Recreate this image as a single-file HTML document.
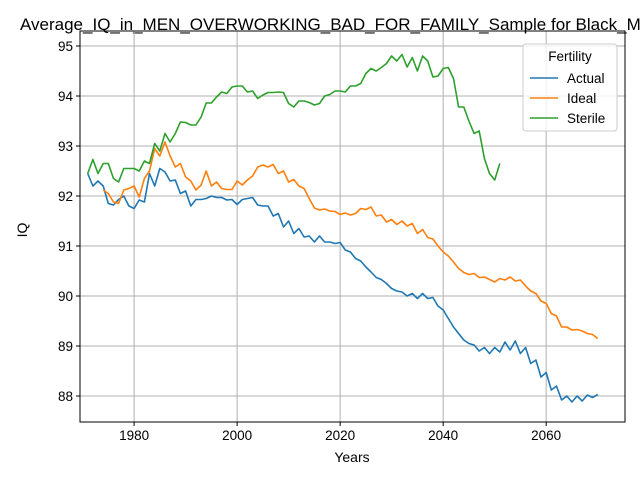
<!DOCTYPE html>
<html><head><meta charset="utf-8"><style>
body{margin:0;background:#fff;}
svg{display:block;font-family:"Liberation Sans","DejaVu Sans",sans-serif;}
</style></head><body>
<svg id="chart" width="640" height="480">
<text x="20" y="30" font-size="17" fill="#000">Average_IQ_in_MEN_OVERWORKING_BAD_FOR_FAMILY_Sample for Black_M</text>
<g id="grid"></g><g id="series"></g><g id="axes"></g>
<text x="352" y="462" font-size="14" text-anchor="middle">Years</text>
<text x="0" y="0" font-size="14" text-anchor="middle" transform="translate(27,230) rotate(-90)">IQ</text>
<g id="legend"></g>
</svg>
<script>
const xTicks=[1980,2000,2020,2040,2060];
const yTicks=[88,89,90,91,92,93,94,95];
const seriesNames=["Actual","Ideal","Sterile"];
const actualStart=1971;
const actualVals=[92.45,92.2,92.3,92.2,91.85,91.82,91.93,92.0,91.8,91.75,91.92,91.88,92.45,92.2,92.55,92.48,92.3,92.32,92.05,92.1,91.8,91.93,91.93,91.95,92.0,91.97,91.97,91.92,91.93,91.83,91.93,91.95,91.97,91.82,91.8,91.8,91.6,91.65,91.38,91.5,91.25,91.35,91.18,91.2,91.08,91.2,91.08,91.08,91.05,91.07,90.92,90.88,90.75,90.7,90.58,90.48,90.37,90.33,90.25,90.15,90.1,90.08,90.0,90.05,89.95,90.05,89.95,89.97,89.8,89.72,89.55,89.38,89.25,89.12,89.05,89.02,88.9,88.97,88.85,88.97,88.88,89.08,88.92,89.1,88.85,88.97,88.65,88.72,88.38,88.47,88.12,88.2,87.92,88.0,87.88,88.0,87.9,88.02,87.97,88.03];
const idealStart=1974;
const idealVals=[92.12,92.05,91.88,91.85,92.12,92.15,92.2,91.98,92.35,92.5,92.95,92.8,93.08,92.8,92.58,92.65,92.38,92.3,92.12,92.22,92.5,92.2,92.28,92.15,92.13,92.13,92.3,92.22,92.32,92.4,92.58,92.62,92.58,92.63,92.45,92.5,92.28,92.33,92.2,92.15,91.95,91.76,91.72,91.74,91.7,91.69,91.63,91.66,91.62,91.65,91.75,91.73,91.78,91.6,91.62,91.48,91.53,91.43,91.5,91.4,91.45,91.25,91.33,91.17,91.14,91.0,90.88,90.8,90.68,90.55,90.47,90.43,90.45,90.37,90.38,90.33,90.28,90.35,90.32,90.38,90.3,90.32,90.2,90.1,90.05,89.9,89.85,89.65,89.6,89.38,89.38,89.32,89.33,89.3,89.25,89.23,89.15];
const sterileStart=1971;
const sterileVals=[92.45,92.73,92.45,92.65,92.65,92.35,92.28,92.55,92.55,92.55,92.5,92.7,92.65,93.05,92.9,93.25,93.08,93.25,93.48,93.47,93.42,93.42,93.58,93.86,93.86,93.98,94.08,94.05,94.18,94.2,94.2,94.08,94.1,93.95,94.02,94.07,94.07,94.08,94.07,93.85,93.78,93.9,93.9,93.87,93.82,93.85,94.0,94.03,94.1,94.1,94.08,94.2,94.2,94.25,94.45,94.55,94.5,94.57,94.65,94.8,94.7,94.83,94.58,94.77,94.5,94.8,94.7,94.38,94.4,94.55,94.57,94.35,93.78,93.78,93.5,93.25,93.3,92.75,92.45,92.32,92.65];
const colors=["#1f77b4","#ff7f0e","#2ca02c"];
const L=80,R=625,T=31,B=422;
const xMin=1969.5,xMax=2075.3,yMin=87.48,yMax=95.3;
const X=v=>L+(v-xMin)/(xMax-xMin)*(R-L);
const Y=v=>B-(v-yMin)/(yMax-yMin)*(B-T);
const NS="http://www.w3.org/2000/svg";
function mk(tag,attrs,parent){const e=document.createElementNS(NS,tag);for(const k in attrs)e.setAttribute(k,attrs[k]);parent.appendChild(e);return e;}
const grid=document.getElementById('grid'),axes=document.getElementById('axes'),ser=document.getElementById('series'),leg=document.getElementById('legend');
xTicks.forEach(t=>{
  const g=mk('line',{x1:X(t),x2:X(t),y1:T,y2:B,stroke:'#b0b0b0','stroke-width':1},grid);
  
  
  mk('line',{x1:X(t),x2:X(t),y1:B,y2:B+4,stroke:'#000'},axes);
  const tx=mk('text',{x:X(t),y:B+18,'font-size':13.5,'text-anchor':'middle'},axes);tx.textContent=t;
  
  
});
yTicks.forEach(t=>{
  const g=mk('line',{x1:L,x2:R,y1:Y(t),y2:Y(t),stroke:'#b0b0b0','stroke-width':1},grid);
  
  
  mk('line',{x1:L-4,x2:L,y1:Y(t),y2:Y(t),stroke:'#000'},axes);
  const tx=mk('text',{x:L-7,y:Y(t)+5,'font-size':13.5,'text-anchor':'end'},axes);tx.textContent=t;
  
  
});
const fr=mk('rect',{x:L,y:T,width:R-L,height:B-T,fill:'none',stroke:'#000','stroke-width':1},axes);


const all=[[actualStart,actualVals],[idealStart,idealVals],[sterileStart,sterileVals]];
all.forEach((s,i)=>{
  const pts=s[1].map((v,j)=>X(s[0]+j).toFixed(1)+','+Y(v).toFixed(1)).join(' ');
  const p=mk('polyline',{points:pts,fill:'none',stroke:colors[i],'stroke-width':1.6,'stroke-linejoin':'round'},ser);
  
  
});
const lb=mk('rect',{x:523,y:44,width:94,height:87,rx:3,fill:'#fff','fill-opacity':0.8,stroke:'#ccc'},leg);


const lt=mk('text',{x:570,y:61,'font-size':13.5,'text-anchor':'middle'},leg);lt.textContent='Fertility';


seriesNames.forEach((n,i)=>{
  const yy=82+i*20;
  const ln=mk('line',{x1:530,x2:558,y1:yy-4,y2:yy-4,stroke:colors[i],'stroke-width':1.6},leg);
  
  
  const t=mk('text',{x:567,y:yy+1,'font-size':13.5},leg);t.textContent=n;
  
  
});
</script>
</body></html>
